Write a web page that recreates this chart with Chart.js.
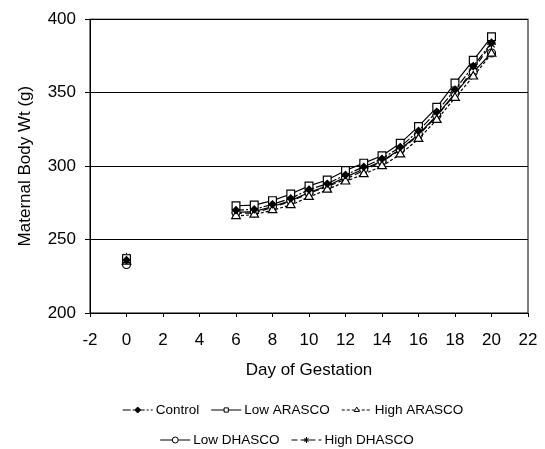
<!DOCTYPE html>
<html>
<head>
<meta charset="utf-8">
<script src="https://cdn.jsdelivr.net/npm/chart.js@4/dist/chart.umd.min.js"></script>
<style>
  body { margin: 0; background: #fff; }
  canvas { display: block; }
</style>
</head>
<body>
<canvas id="weightChart" width="545" height="449"></canvas>
<script>
// Day of gestation (no readings between day 0 and day 6)
const days = [0, 6, 7, 8, 9, 10, 11, 12, 13, 14, 15, 16, 17, 18, 19, 20];

// Maternal body weight (g)
const control    = [236, 270, 270.5, 274, 278, 284, 288, 294, 299.5, 305, 313, 324, 337, 352, 368, 384];
const lowArasco  = [237, 273, 273.5, 276.5, 281, 286.5, 290.5, 297, 302, 307, 315.5, 327, 340, 356.5, 372, 388];
const highArasco = [235, 266, 267, 270, 273.5, 279, 284, 289.5, 294.5, 300, 308, 318.5, 331.5, 346.5, 361, 376.5];
const lowDhasco  = [233, 268.5, 269, 272.5, 276.5, 282, 286.5, 292.5, 298, 303.5, 311.5, 321.5, 334.5, 349.5, 364, 377];
const highDhasco = [238, 268, 268, 272, 276, 281.5, 286, 291, 297, 303, 311, 321, 334, 349, 366, 383];

const xTicks = [-2, 0, 2, 4, 6, 8, 10, 12, 14, 16, 18, 20, 22];
const yTicks = [200, 250, 300, 350, 400];

const toPoints = vals => vals.map((v, i) => ({ x: days[i], y: v }));

function series(label, vals, style, dash, fill, radius) {
    return {
        label: label,
        data: toPoints(vals),
        borderColor: '#000',
        borderWidth: 1.2,
        borderDash: dash,
        pointStyle: style,
        pointRadius: radius,
        pointBackgroundColor: fill,
        pointBorderColor: '#000',
        pointBorderWidth: 1.2,
        tension: 0,
        // no line between day 0 and day 6
        segment: {
            borderColor: c => c.p0.parsed.x === 0 ? 'rgba(0,0,0,0)' : undefined
        }
    };
}

// frame on the right side of the plot
const frame = {
    id: 'frame',
    beforeDatasetsDraw(chart) {
        const { ctx, chartArea: a } = chart;
        ctx.save();
        ctx.strokeStyle = '#000';
        ctx.lineWidth = 1;
        ctx.strokeRect(a.left, a.top, a.right - a.left, a.bottom - a.top);
        ctx.restore();
    }
};

// legend drawn as line + marker + text, two rows
const lineLegend = {
    id: 'lineLegend',
    afterDraw(chart) {
        const ctx = chart.ctx;
        const sets = chart.data.datasets;
        const rows = [[0, 1, 2], [3, 4]];
        const rowY = [410, 440];
        const rowCenter = [293, 287];
        const segLen = 30, gap = 3, itemGap = 12;
        ctx.save();
        ctx.font = '13.5px "Liberation Sans", Arial, sans-serif';
        ctx.textBaseline = 'middle';
        ctx.fillStyle = '#000';
        rows.forEach((row, r) => {
            const widths = row.map(i => segLen + gap + ctx.measureText(sets[i].label).width);
            const total = widths.reduce((s, w) => s + w, 0) + itemGap * (row.length - 1);
            let x = rowCenter[r] - total / 2;
            const y = rowY[r];
            row.forEach((i, k) => {
                const ds = sets[i];
                ctx.strokeStyle = '#000';
                ctx.lineWidth = 1;
                ctx.setLineDash(ds.borderDash || []);
                ctx.beginPath();
                ctx.moveTo(x, y);
                ctx.lineTo(x + segLen, y);
                ctx.stroke();
                ctx.setLineDash([]);
                ctx.fillStyle = ds.pointBackgroundColor;
                Chart.helpers.drawPoint(ctx, {
                    pointStyle: ds.pointStyle,
                    radius: 3,
                    borderWidth: 1,
                    rotation: 0
                }, x + segLen / 2, y);
                ctx.fillStyle = '#000';
                ctx.fillText(ds.label, x + segLen + gap, y);
                x += widths[k] + itemGap;
            });
        });
        ctx.restore();
    }
};

const tickFont = { family: '"Liberation Sans", Arial, sans-serif', size: 17 };

new Chart(document.getElementById('weightChart'), {
    type: 'line',
    data: {
        datasets: [
            series('Control', control, 'rectRot', [8, 2, 2, 2], '#000', 3.5),
            series('Low ARASCO', lowArasco, 'rect', [], '#fff', 5.5),
            series('High ARASCO', highArasco, 'triangle', [3, 2], '#fff', 5),
            series('Low DHASCO', lowDhasco, 'circle', [], '#fff', 4),
            series('High DHASCO', highDhasco, 'star', [6, 3], '#fff', 4.5)
        ]
    },
    options: {
        responsive: false,
        animation: false,
        layout: { padding: { left: 0, right: 17, top: 16, bottom: 60 } },
        plugins: {
            legend: { display: false },
            tooltip: { enabled: false }
        },
        scales: {
            x: {
                type: 'linear',
                min: -2,
                max: 22,
                afterBuildTicks: s => { s.ticks = xTicks.map(v => ({ value: v })); },
                afterFit: s => { s.height = 76; s.paddingRight = 0; s.paddingLeft = 0; },
                ticks: { color: '#000', font: tickFont, padding: 13, maxRotation: 0 },
                grid: { drawOnChartArea: false, color: '#000', tickLength: 4 },
                border: { color: '#000', width: 1 },
                title: {
                    display: true,
                    text: 'Day of Gestation',
                    color: '#000',
                    font: tickFont,
                    padding: { top: 0, bottom: 8 }
                }
            },
            y: {
                min: 200,
                max: 400,
                afterBuildTicks: s => { s.ticks = yTicks.map(v => ({ value: v })); },
                afterFit: s => { s.width = 90; },
                ticks: { color: '#000', font: tickFont, padding: 9 },
                grid: { color: '#000', lineWidth: 1, tickLength: 5 },
                border: { color: '#000', width: 1 },
                title: {
                    display: true,
                    text: 'Maternal Body Wt (g)',
                    color: '#000',
                    font: tickFont,
                    padding: { top: 15, bottom: 0 }
                }
            }
        }
    },
    plugins: [frame, lineLegend]
});
</script>
</body>
</html>
